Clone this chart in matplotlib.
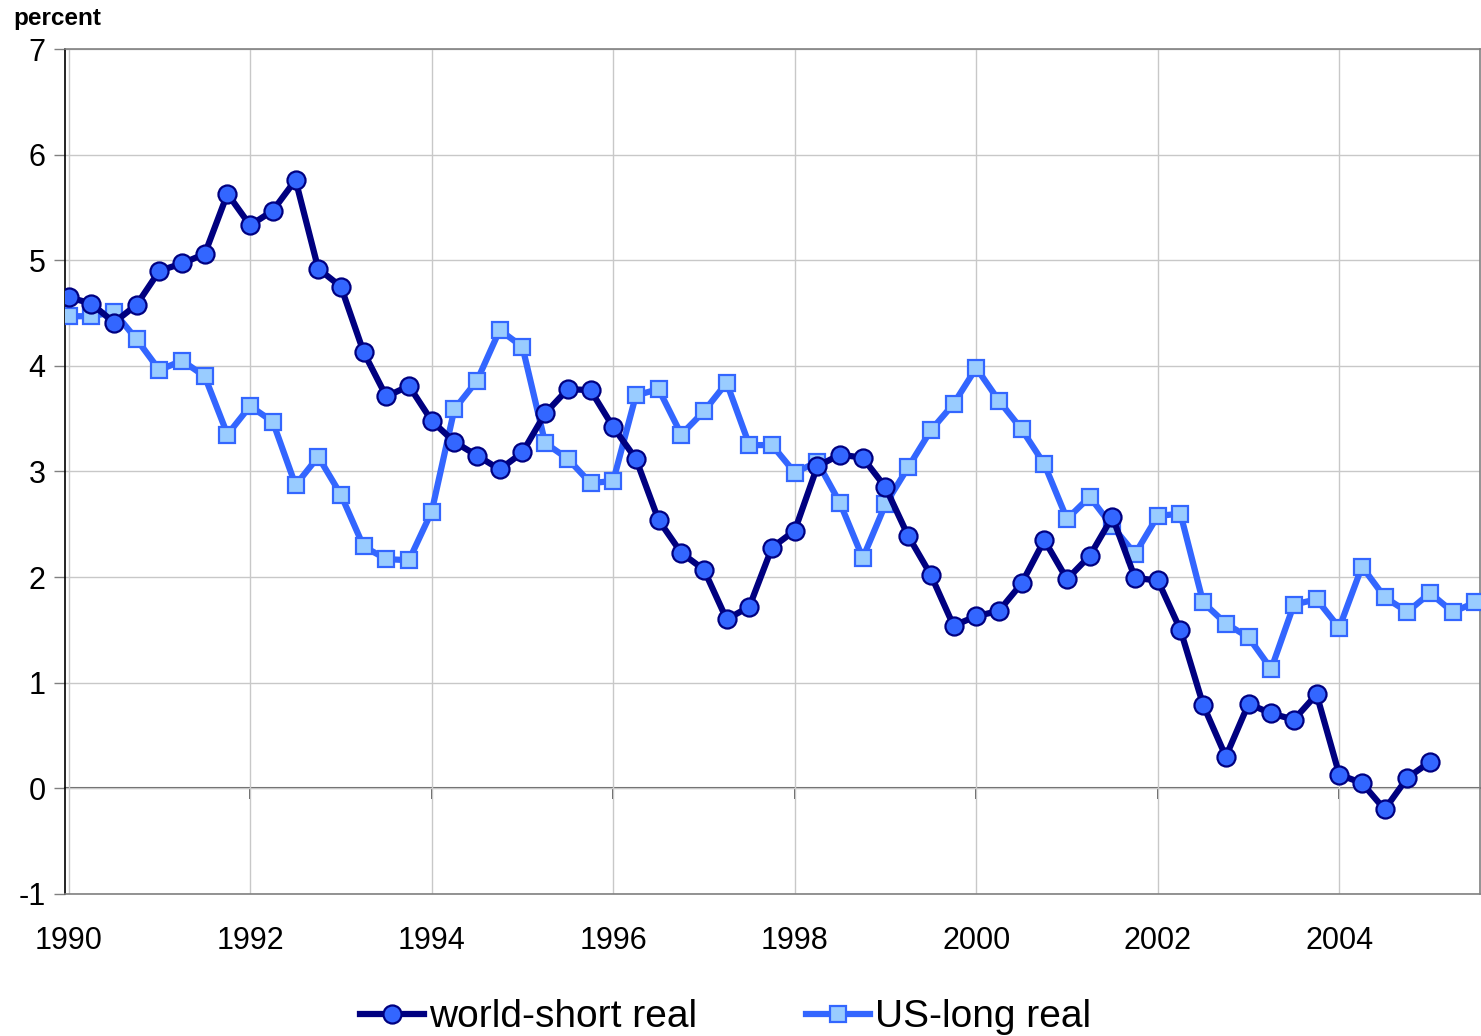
import numpy as np
import matplotlib.pyplot as plt

plt.rcParams['font.family'] = ['Liberation Sans', 'DejaVu Sans']
plt.rcParams['axes.unicode_minus'] = False

# quarterly real interest rates, percent (from 1990 Q1)
world_short = [4.65, 4.59, 4.41, 4.58, 4.90, 4.97, 5.06, 5.63, 5.33, 5.47,
               5.76, 4.92, 4.75, 4.13, 3.71, 3.81, 3.48, 3.28, 3.15, 3.02,
               3.18, 3.55, 3.78, 3.77, 3.42, 3.12, 2.54, 2.23, 2.07, 1.60,
               1.72, 2.28, 2.44, 3.05, 3.16, 3.13, 2.85, 2.39, 2.02, 1.54,
               1.63, 1.68, 1.94, 2.35, 1.98, 2.20, 2.57, 1.99, 1.97, 1.50,
               0.79, 0.30, 0.80, 0.71, 0.65, 0.89, 0.13, 0.05, -0.20, 0.10,
               0.25]
us_long = [4.47, 4.47, 4.51, 4.25, 3.96, 4.05, 3.90, 3.35, 3.62, 3.47,
           2.87, 3.14, 2.78, 2.29, 2.17, 2.16, 2.62, 3.59, 3.86, 4.34,
           4.18, 3.27, 3.12, 2.89, 2.91, 3.72, 3.78, 3.35, 3.57, 3.84,
           3.25, 3.25, 2.99, 3.09, 2.70, 2.18, 2.69, 3.04, 3.39, 3.64,
           3.98, 3.67, 3.40, 3.07, 2.55, 2.76, 2.48, 2.22, 2.58, 2.60,
           1.76, 1.56, 1.43, 1.13, 1.74, 1.79, 1.52, 2.10, 1.81, 1.67,
           1.85, 1.67, 1.76]
start_year = 1990
year_ticks = [1990, 1992, 1994, 1996, 1998, 2000, 2002, 2004]
y_ticks = [-1, 0, 1, 2, 3, 4, 5, 6, 7]

x_ws = start_year + np.arange(len(world_short)) / 4
x_us = start_year + np.arange(len(us_long)) / 4

fig = plt.figure(figsize=(14.81, 10.36), dpi=100)
ax = fig.add_axes([0.0439, 0.1371, 0.9554, 0.8156])

ax.plot(x_ws, world_short, color='#000080', lw=4.5, marker='o', ms=13,
        mfc='#3366FF', mec='#000080', mew=1.6, label='world-short real',
        zorder=4)
ax.plot(x_us, us_long, color='#3366FF', lw=4.5, marker='s', ms=11,
        mfc='#99CCFF', mec='#3366FF', mew=1.6, label='US-long real',
        zorder=3)

ax.set_xlim(1989.96, 2005.55)
ax.set_ylim(-1, 7)
ax.set_xticks(year_ticks)
ax.set_xticklabels([str(y) for y in year_ticks])
ax.set_yticks(y_ticks)
ax.tick_params(axis='x', length=0, pad=23, labelsize=22)
ax.tick_params(axis='y', direction='out', length=8, color='#808080',
               width=1, pad=6, labelsize=22)

ax.grid(True, color='#C8C8C8', lw=1)
ax.set_axisbelow(True)

for side in ['top', 'right', 'bottom']:
    ax.spines[side].set_color('#808080')
    ax.spines[side].set_linewidth(1.2)
ax.spines['left'].set_color('black')
ax.spines['left'].set_linewidth(1.2)

# zero line with downward year ticks
zero = ax.secondary_xaxis(1 / 8)
zero.set_xticks(year_ticks[1:])
zero.set_xticklabels([])
zero.tick_params(direction='out', length=8, color='#404040', width=1.2)
zero.spines['bottom'].set_color('#606060')
zero.spines['bottom'].set_linewidth(1.5)

fig.text(0.009, 0.971, 'percent', fontsize=17.5, fontweight='bold',
         ha='left', va='bottom')

fig.legend(loc='lower center', bbox_to_anchor=(0.49, -0.033), ncol=2,
           frameon=False, fontsize=28, handlelength=1.65, handletextpad=0.12,
           columnspacing=2.8)

fig.savefig('out.png', dpi=100)
